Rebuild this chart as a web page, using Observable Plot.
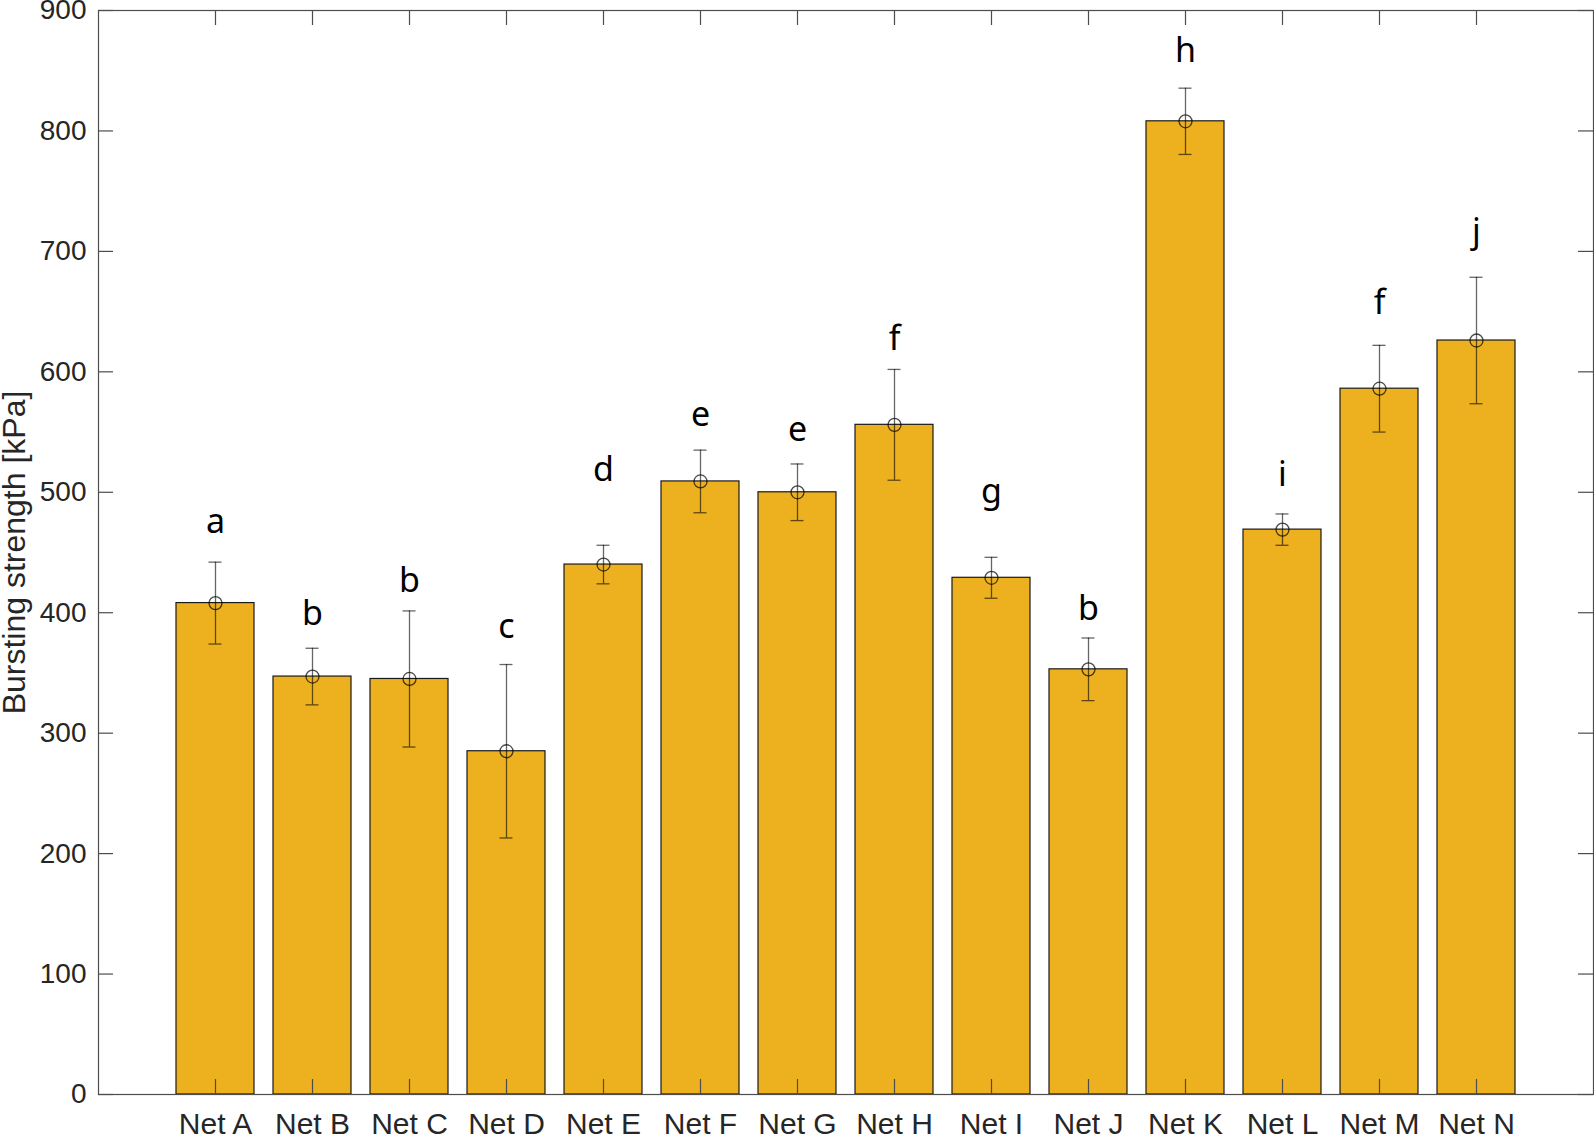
<!DOCTYPE html>
<html><head><meta charset="utf-8">
<script src="https://cdn.jsdelivr.net/npm/d3@7"></script>
<script src="https://cdn.jsdelivr.net/npm/@observablehq/plot@0.6"></script>
<style>html,body{margin:0;padding:0;background:#fff}svg{display:block}</style>
</head><body><div id="chart"></div>
<script>
const categories = ["Net A","Net B","Net C","Net D","Net E","Net F","Net G","Net H","Net I","Net J","Net K","Net L","Net M","Net N"];
const means  = [408, 347, 345, 285, 440, 509, 500, 556, 429, 353, 808, 469, 586, 626];
const errors = [34, 23.5, 56.5, 72, 16, 26, 23.5, 46, 17, 26, 27.5, 13, 36, 52.5];
const letters = ["a","b","b","c","d","e","e","f","g","b","h","i","f","j"];
const letterY = [475, 399, 426, 388, 518, 564, 552, 627, 500, 403, 866, 514, 657, 716];
const yTicks = [0, 100, 200, 300, 400, 500, 600, 700, 800, 900];
const yLabel = "Bursting strength [kPa]";

const W = 1594, H = 1134;
const mL = 98, mR = 1, mT = 10, mB = 40;
const pw = W - mL - mR, ph = H - mT - mB;

const data = categories.map((c, i) => ({
  cat: c, mean: means[i], lo: means[i] - errors[i], hi: means[i] + errors[i],
  letter: letters[i], ly: letterY[i]
}));

const axisColor = "#262626";
const lineColor = "#4d4d4d";
const tickFont = "Liberation Sans, Arial, Helvetica, sans-serif";

const chart = Plot.plot({
  width: W, height: H,
  marginLeft: mL, marginRight: mR, marginTop: mT, marginBottom: mB,
  style: {fontFamily: tickFont, fontSize: "28px", color: axisColor, background: "#fff"},
  x: {type: "band", domain: categories, paddingInner: 0.2, paddingOuter: 0.8, label: null},
  y: {domain: [0, 900], label: null},
  marks: [
    Plot.barY(data, {x: "cat", y: "mean", fill: "#EDB120", stroke: "#1a1a1a", strokeWidth: 1.2}),
    Plot.ruleX(data, {x: "cat", y1: "lo", y2: "hi", stroke: "#000", strokeOpacity: 0.6, strokeWidth: 1.3}),
    Plot.tickY(data, {x: "cat", y: "hi", stroke: "#000", strokeOpacity: 0.6, strokeWidth: 1.3, insetLeft: 32.5, insetRight: 32.5}),
    Plot.tickY(data, {x: "cat", y: "lo", stroke: "#000", strokeOpacity: 0.6, strokeWidth: 1.3, insetLeft: 32.5, insetRight: 32.5}),
    Plot.dot(data, {x: "cat", y: "mean", r: 6.5, stroke: "#000", strokeOpacity: 0.7, strokeWidth: 1.3, fill: "none"}),
    Plot.text(data, {x: "cat", y: "ly", text: "letter", fontFamily: "Noto Sans, sans-serif", fontSize: 34, fill: "#000", lineAnchor: "middle"}),
    // tick marks (inward) on all four sides
    Plot.gridY(yTicks, {stroke: lineColor, strokeOpacity: 1, strokeWidth: 1.2, insetRight: pw - 15}),
    Plot.gridY(yTicks, {stroke: lineColor, strokeOpacity: 1, strokeWidth: 1.2, insetLeft: pw - 15}),
    Plot.gridX(categories, {stroke: lineColor, strokeOpacity: 1, strokeWidth: 1.2, insetTop: ph - 15}),
    Plot.gridX(categories, {stroke: lineColor, strokeOpacity: 1, strokeWidth: 1.2, insetBottom: ph - 15}),
    Plot.axisY(yTicks, {anchor: "left", tickSize: 0, tickPadding: 12, fill: axisColor, label: null}),
    Plot.text([yLabel], {frameAnchor: "left", dx: -96, rotate: -90, lineAnchor: "top", textAnchor: "middle",
      fontSize: 32, fill: axisColor, fontFamily: tickFont}),
    Plot.axisX(categories, {anchor: "bottom", tickSize: 0, tickPadding: 18, fontSize: 30, fill: axisColor, label: null}),
    Plot.frame({stroke: lineColor, strokeWidth: 1.2})
  ]
});
document.getElementById("chart").appendChild(chart);
</script>
</body></html>
